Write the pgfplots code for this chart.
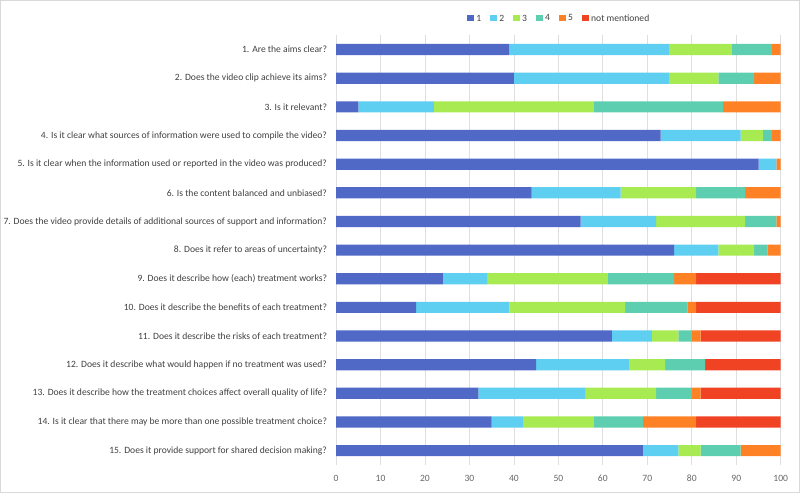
\documentclass[border=0pt]{standalone}
\usepackage{fontspec}
\setmainfont{Carlito}
\usepackage{pgfplots}
\pgfplotsset{compat=1.18}
\usepackage{pgfplotstable}

\definecolor{cOne}{RGB}{80,104,198}
\definecolor{cTwo}{RGB}{94,206,241}
\definecolor{cThree}{RGB}{167,234,82}
\definecolor{cFour}{RGB}{93,206,175}
\definecolor{cFive}{RGB}{255,129,37}
\definecolor{cNm}{RGB}{239,67,35}
\definecolor{txt}{RGB}{64,64,64}

% question, then share of each rating (percent)
\pgfplotstableread{
q  s1 s2 s3 s4 s5 nm
1  39 36 14  9  2  0
2  40 35 11  8  6  0
3   5 17 36 29 13  0
4  73 18  5  2  2  0
5  95  4  0  0  1  0
6  44 20 17 11  8  0
7  55 17 20  7  1  0
8  76 10  8  3  3  0
9  24 10 27 15  5 19
10 18 21 26 14  2 19
11 62  9  6  3  2 18
12 45 21  8  9  0 17
13 32 24 16  8  2 18
14 35  7 16 11 12 19
15 69  8  5  9  9  0
}\ratings

\begin{document}
\begin{tikzpicture}[font=\fontsize{7.2pt}{8.6pt}\selectfont]
\path[use as bounding box, draw=gray!30] (-252pt,-20.25pt) rectangle (348pt,348.75pt);
\begin{axis}[
  at={(0,0)}, anchor=south west,
  scale only axis, width=333.75pt, height=322.5pt,
  xbar stacked, bar width=8.4pt,
  xmin=0, xmax=100, ymin=0.5, ymax=15.5,
  y dir=reverse,
  xtick={0,10,...,100},
  ytick={1,...,15},
  yticklabels={
    1. Are the aims clear?,
    2. Does the video clip achieve its aims?,
    3. Is it relevant?,
    4. Is it clear what sources of information were used to compile the video?,
    5. Is it clear when the information used or reported in the video was produced?,
    6. Is the content balanced and unbiased?,
    7. Does the video provide details of additional sources of support and information?,
    8. Does it refer to areas of uncertainty?,
    9. Does it describe how (each) treatment works?,
    10. Does it describe the benefits of each treatment?,
    11. Does it describe the risks of each treatment?,
    12. Does it describe what would happen if no treatment was used?,
    13. Does it describe how the treatment choices affect overall quality of life?,
    14. Is it clear that there may be more than one possible treatment choice?,
    15. Does it provide support for shared decision making?},
  axis line style={draw=none},
  major tick length=0pt,
  xmajorgrids, grid style={gray!25, line width=0.6pt},
  yticklabel style={inner sep=0pt, xshift=-6.6pt, text=txt},
  xticklabel style={inner sep=0pt, yshift=-7.5pt, text=gray!80!black},
  /pgf/number format/assume math mode=true,
  legend columns=6,
  legend style={draw=none, fill=none, at={(0.503,1.038)}, anchor=center,
    /tikz/every even column/.append style={column sep=5pt}, text=txt,
    inner sep=0pt},
  legend image code/.code={\fill[#1,draw=none] (0pt,-1.6pt) rectangle (4.6pt,3pt);},
  every axis plot/.append style={draw=none},
]
\addplot[fill=cOne] table[x=s1, y=q] {\ratings};
\addplot[fill=cTwo] table[x=s2, y=q] {\ratings};
\addplot[fill=cThree] table[x=s3, y=q] {\ratings};
\addplot[fill=cFour] table[x=s4, y=q] {\ratings};
\addplot[fill=cFive] table[x=s5, y=q] {\ratings};
\addplot[fill=cNm] table[x=nm, y=q] {\ratings};
\legend{1,2,3,4,5,not mentioned}
\end{axis}
\end{tikzpicture}
\end{document}
